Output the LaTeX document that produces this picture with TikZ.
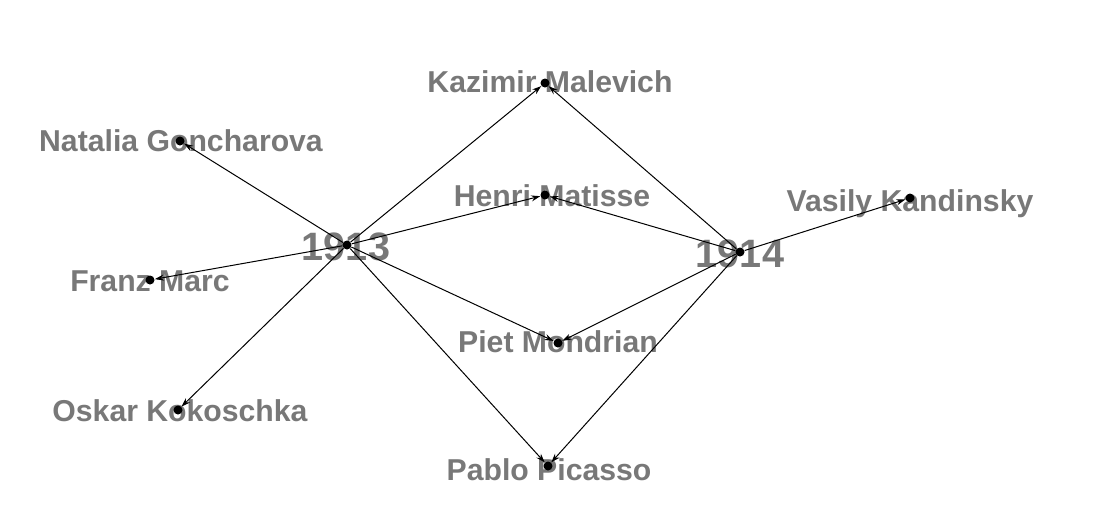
\documentclass[tikz,border=0pt]{standalone}
\usepackage{fontspec}
\setmainfont{Liberation Sans}
\usetikzlibrary{arrows.meta}
\definecolor{labgray}{RGB}{120,120,120}
\tikzset{
	vtx/.style={circle, fill=black, inner sep=0pt, minimum size=4.5pt},
	lab/.style={text=labgray, font=\fontsize{15.1}{18}\selectfont\bfseries, inner sep=0pt},
	yearlab/.style={text=labgray, font=\fontsize{19.8}{22}\selectfont\bfseries, inner sep=0pt}
}

\begin{document}
\begin{tikzpicture}[x=0.5pt, y=-0.5pt]
		\useasboundingbox (0,0) rectangle (1110,526);
		% labels
		\node[yearlab] (l1913) at (346,247) {1913};
		\node[yearlab] (l1914) at (740,254) {1914};
		\node[lab] (lmal) at (550,82) {Kazimir Malevich};
		\node[lab] (lgon) at (181,141) {Natalia Goncharova};
		\node[lab] (lmat) at (552,196) {Henri Matisse};
		\node[lab] (lkan) at (910,204) {Vasily Kandinsky};
		\node[lab] (lmar) at (150,281) {Franz Marc};
		\node[lab] (lmon) at (558,342) {Piet Mondrian};
		\node[lab] (lkok) at (180,411) {Oskar Kokoschka};
		\node[lab] (lpic) at (549,470) {Pablo Picasso};
		% vertices
		\node[vtx] (y13) at (347,245) {};
		\node[vtx] (y14) at (740,252) {};
		\node[vtx] (mal) at (545,83) {};
		\node[vtx] (gon) at (180,141) {};
		\node[vtx] (mat) at (545,195) {};
		\node[vtx] (kan) at (910,198) {};
		\node[vtx] (mar) at (150,280) {};
		\node[vtx] (mon) at (558,343) {};
		\node[vtx] (kok) at (178,410) {};
		\node[vtx] (pic) at (548,466) {};
		\path[-{Stealth[length=4.5pt, width=3pt]}, line width=0.5pt]
		(y13) edge (gon)
		edge (mar)
		edge (kok)
		edge (mal)
		edge (mat)
		edge (mon)
		edge (pic)
		(y14) edge (mal)
		edge (mat)
		edge (mon)
		edge (pic)
		edge (kan);
\end{tikzpicture}
\end{document}
